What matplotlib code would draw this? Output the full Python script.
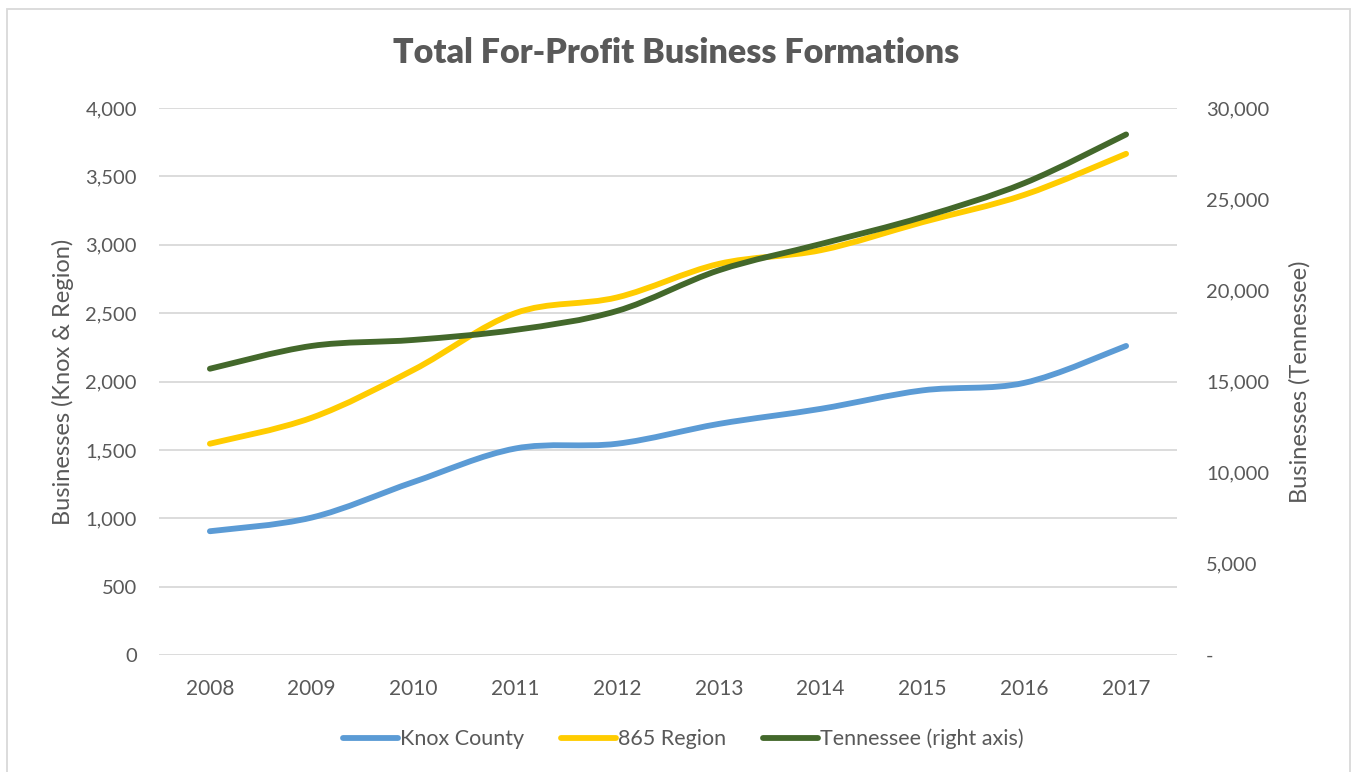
import matplotlib
matplotlib.use("Agg")
import matplotlib.pyplot as plt
from matplotlib.path import Path
from matplotlib.patches import PathPatch, Rectangle
from matplotlib.lines import Line2D
from matplotlib.ticker import FuncFormatter, MultipleLocator
import numpy as np

years = ["2008", "2009", "2010", "2011", "2012", "2013", "2014", "2015", "2016", "2017"]
knox = [905, 1005, 1265, 1510, 1545, 1690, 1800, 1935, 1990, 2260]
region_865 = [1545, 1735, 2085, 2500, 2615, 2860, 2960, 3165, 3365, 3665]
tennessee = [15700, 16950, 17280, 17830, 18870, 21100, 22540, 24020, 25880, 28550]

TXT = "#595959"
plt.rcParams["font.family"] = ["Lato", "DejaVu Sans"]

fig = plt.figure(figsize=(13.53, 7.72), dpi=100)
ax = fig.add_axes([159/1353, 1-655/772, (1177-159)/1353, (655-108)/772])
ax2 = ax.twinx()


def smooth_path(xs, ys):
    xs = np.asarray(xs, float)
    ys = np.asarray(ys, float)
    n = len(xs)
    verts = [(xs[0], ys[0])]
    codes = [Path.MOVETO]
    for i in range(n - 1):
        p0 = (xs[max(i-1, 0)], ys[max(i-1, 0)])
        p1 = (xs[i], ys[i])
        p2 = (xs[i+1], ys[i+1])
        p3 = (xs[min(i+2, n-1)], ys[min(i+2, n-1)])
        c1 = (p1[0] + (p2[0]-p0[0])/6, p1[1] + (p2[1]-p0[1])/6)
        c2 = (p2[0] - (p3[0]-p1[0])/6, p2[1] - (p3[1]-p1[1])/6)
        verts += [c1, c2, p2]
        codes += [Path.CURVE4]*3
    return Path(verts, codes)


x = np.arange(len(years))
c_knox = "#5B9BD5"
c_865 = "#FFCC00"
c_tn = "#43682B"
lw = 4.2

ax.add_patch(PathPatch(smooth_path(x, knox), fill=False, edgecolor=c_knox, lw=lw,
                       capstyle="round", joinstyle="round", zorder=3))
ax.add_patch(PathPatch(smooth_path(x, region_865), fill=False, edgecolor=c_865, lw=lw,
                       capstyle="round", joinstyle="round", zorder=3))
ax2.add_patch(PathPatch(smooth_path(x, tennessee), fill=False, edgecolor=c_tn, lw=lw,
                        capstyle="round", joinstyle="round", zorder=3))

ax.set_xlim(-0.5, len(years)-0.5)
ax.set_ylim(0, 4000)
ax2.set_ylim(0, 30000)
ax.yaxis.set_major_locator(MultipleLocator(500))
ax2.yaxis.set_major_locator(MultipleLocator(5000))
ax.yaxis.set_major_formatter(FuncFormatter(lambda v, p: f"{v:,.0f}"))
ax2.yaxis.set_major_formatter(FuncFormatter(lambda v, p: "-" if v == 0 else f"{v:,.0f}"))
ax.set_xticks(x)
ax.set_xticklabels(years)

ax.grid(axis="y", color="#D9D9D9", lw=1.3, zorder=0)
ax.set_axisbelow(True)
for a in (ax, ax2):
    for s in a.spines.values():
        s.set_visible(False)
    a.tick_params(length=0, colors=TXT, labelsize=14.5)
ax.tick_params(axis="y", pad=16)
ax2.tick_params(axis="y", pad=21)
ax.tick_params(axis="x", pad=17, labelsize=15)
ax.set_ylabel("Businesses (Knox & Region)", color=TXT, fontsize=17, labelpad=8)
ax2.set_ylabel("Businesses (Tennessee)", color=TXT, fontsize=17, labelpad=14)

fig.text(0.5, 1-53/772, "Total For-Profit Business Formations", ha="center", va="center",
         fontsize=24.5, fontweight="heavy", color=TXT)

handles = [Line2D([], [], color=c_knox, lw=lw, solid_capstyle="round"),
           Line2D([], [], color=c_865, lw=lw, solid_capstyle="round"),
           Line2D([], [], color=c_tn, lw=lw, solid_capstyle="round")]
labels = ["Knox County", "865 Region", "Tennessee (right axis)"]
fig.legend(handles, labels, loc="center", bbox_to_anchor=(0.505, 1-739/772), ncol=3,
           frameon=False, fontsize=15.5, labelcolor=TXT, handlelength=2.55,
           handletextpad=0.1, columnspacing=1.7)

fig.patches.append(Rectangle((7/1353, -0.05), (1350-7)/1353, 1.05-9/772,
                             transform=fig.transFigure, fill=False,
                             edgecolor="#D9D9D9", lw=1.3))

fig.savefig("out.png", dpi=100)
